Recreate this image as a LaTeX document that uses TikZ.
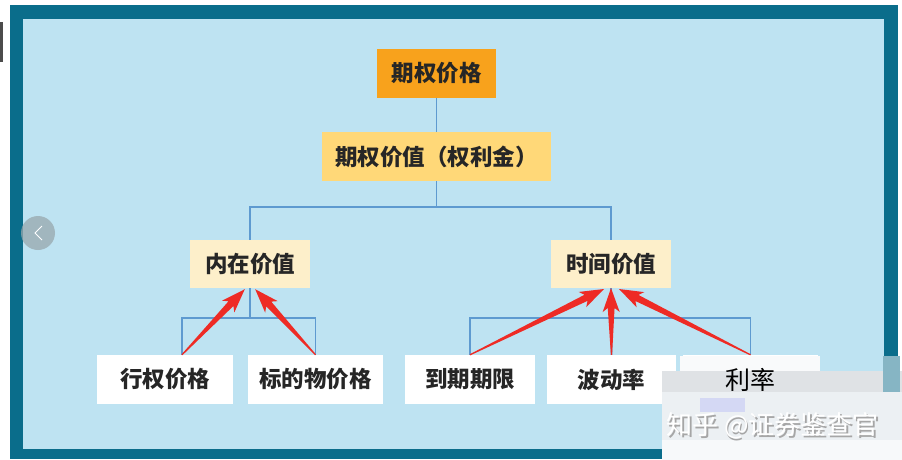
\documentclass[tikz,border=0pt]{standalone}
\usepackage{fontspec}
\newfontfamily\cjk{Noto Sans CJK SC}
\usetikzlibrary{calc}
\definecolor{frameteal}{HTML}{0A6D8B}
\definecolor{skyblue}{HTML}{BEE3F2}
\definecolor{toporange}{HTML}{F8A21C}
\definecolor{midorange}{HTML}{FFD878}
\definecolor{cream}{HTML}{FDEFCA}
\definecolor{linkblue}{HTML}{5E9AD0}
\definecolor{arrowred}{HTML}{EE2B25}
\definecolor{blurgray}{HTML}{ECF0F3}
\tikzset{
  box/.style={inner sep=0pt, font=\cjk\bfseries\fontsize{22.5}{22.5}\selectfont, text=black!85},
  lowbox/.style={box, fill=white, minimum height=49pt},
  link/.style={draw=linkblue, line width=1.8pt},
}
\newcommand\redarr[2]{%
  \fill[arrowred] let \p1=($(#2)-(#1)$), \n1={atan2(\y1,\x1)}, \n2={veclen(\x1,\y1)} in
    [shift={(#1)}, rotate=\n1] (0,-0.6) -- (\n2-20,-3.4) -- (\n2-24,-8.5) -- (\n2,0) -- (\n2-24,8.5) -- (\n2-20,3.4) -- (0,0.6) -- cycle;}
\begin{document}
\begin{tikzpicture}[x=1pt,y=-1pt]
\useasboundingbox (0,0) rectangle (902,460);
\fill[white] (0,0) rectangle (902,460);
\fill[black!70] (0,22) rectangle (3,62);
\fill[frameteal] (10,5) rectangle (898,459);
\fill[skyblue] (23,19) rectangle (884,449);
% left navigation circle
\fill[gray!60!skyblue, opacity=0.75] (38,233) circle (17);
\draw[white, line width=0.8pt] (42,226) -- (35,233) -- (42,240);
% nodes
\node[box, fill=toporange, minimum width=119pt, minimum height=49pt] (top) at (436.5,73.5) {期权价格};
\node[box, fill=midorange, minimum width=229pt, minimum height=49pt] (val) at (436.5,156.5) {期权价值（权利金）};
\node[box, fill=cream, minimum width=120pt, minimum height=48pt] (intr) at (250,264) {内在价值};
\node[box, fill=cream, minimum width=120pt, minimum height=48pt] (timev) at (611,264) {时间价值};
\node[lowbox, minimum width=136pt] (strike) at (165,379.5) {行权价格};
\node[lowbox, minimum width=135pt] (under) at (315.5,379.5) {标的物价格};
\node[lowbox, minimum width=130pt] (mat) at (470,379.5) {到期期限};
\node[lowbox, minimum width=129pt] (vol) at (611.5,379.5) {波动率};
\node[lowbox, minimum width=135pt] (rate) at (750.5,379.5) {};
% connectors
\coordinate (j1) at (436.5,207);
\coordinate (j2) at (250,318);
\coordinate (j3) at (611,318);
\coordinate (sk) at ($(strike.north)+(17,0)$);
\draw[link] (top.south) -- (val.north);
\draw[link] (val.south) -- (j1);
\draw[link] (j1) -| (intr.north);
\draw[link] (j1) -| (timev.north);
\draw[link] (intr.south) -- (j2);
\draw[link] (j2) -| (sk);
\draw[link] (j2) -| (under.north);
\draw[link] (timev.south) -- (j3);
\draw[link] (j3) -| (mat.north);
\draw[link] (j3) -| (rate.north);
\draw[link] (j3) -- (vol.north);
% red arrows
\coordinate (t1) at (245,289);
\coordinate (t2) at (255,289);
\coordinate (t3) at (604,289);
\coordinate (t4) at (611,288);
\coordinate (t5) at (619,289);
\redarr{sk}{t1}
\redarr{under.north}{t2}
\redarr{mat.north}{t3}
\redarr{vol.north}{t4}
\redarr{rate.north}{t5}
% watermark blur
\fill[blurgray] (662,371) rectangle (902,460);
\fill[white!70!blurgray] (680,356) rectangle (820,371);
\fill[gray!12!blurgray] (662,371) rectangle (902,392);
\fill[frameteal!45!blurgray] (883,356) rectangle (900,392);
\fill[blue!10!blurgray] (700,398) rectangle (745,412);
\fill[white!60!blurgray] (662,440) rectangle (902,460);
\node[font=\cjk\fontsize{25}{25}\selectfont, text=black] (ratetext) at (rate.center) {利率};
\node[font=\cjk\fontsize{26}{26}\selectfont, text=gray!70, anchor=west] (wm0) at (664.5,427.5) {知乎 @证券鉴查官};
\node[font=\cjk\fontsize{26}{26}\selectfont, text=white, anchor=west] (wm) at (663,426) {知乎 @证券鉴查官};
\end{tikzpicture}
\end{document}
